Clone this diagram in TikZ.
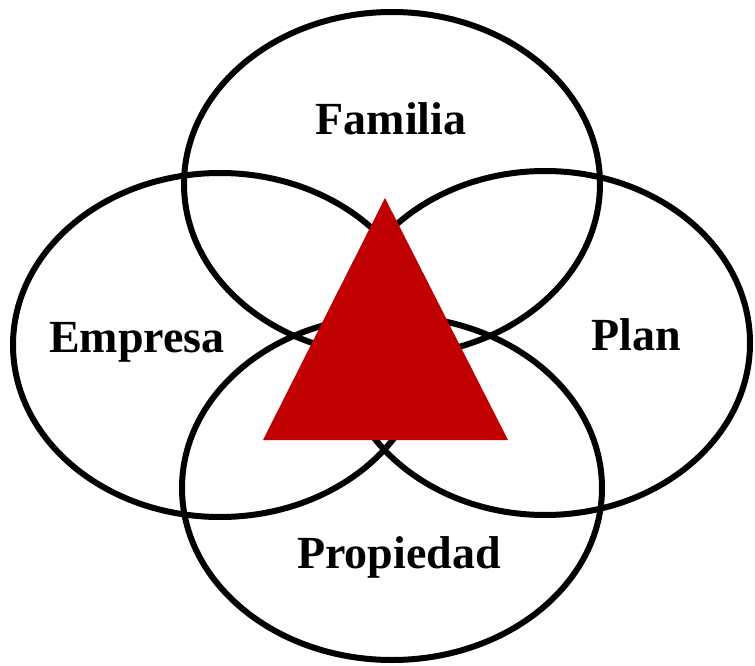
\documentclass[tikz,border=0pt]{standalone}
\usepackage{fontspec}
\setmainfont{Liberation Serif}
\definecolor{tri}{RGB}{192,0,0}
\begin{document}
\begin{tikzpicture}[x=1pt,y=-1pt,
  ring/.style={draw=black,line width=6pt},
  lbl/.style={font=\fontsize{46}{50}\selectfont\bfseries,inner sep=0pt,anchor=base}]
\useasboundingbox (0,0) rectangle (755,666);
\coordinate (cT) at (392,184);
\coordinate (cL) at (220,345);
\coordinate (cR) at (545,343);
\coordinate (cB) at (392,488);
\draw[ring] (cT) ellipse [x radius=208, y radius=172];
\draw[ring] (cL) ellipse [x radius=207, y radius=172];
\draw[ring] (cR) ellipse [x radius=205, y radius=172];
\draw[ring] (cB) ellipse [x radius=210, y radius=172];
\fill[tri] (385,198) -- (508,440) -- (263,440) -- cycle;
\node[lbl] (familia) at (391,135) {Familia};
\node[lbl] (empresa) at (137,352) {Empresa};
\node[lbl] (plan) at (636,350) {Plan};
\node[lbl] (propiedad) at (399,568) {Propiedad};
\end{tikzpicture}
\end{document}
